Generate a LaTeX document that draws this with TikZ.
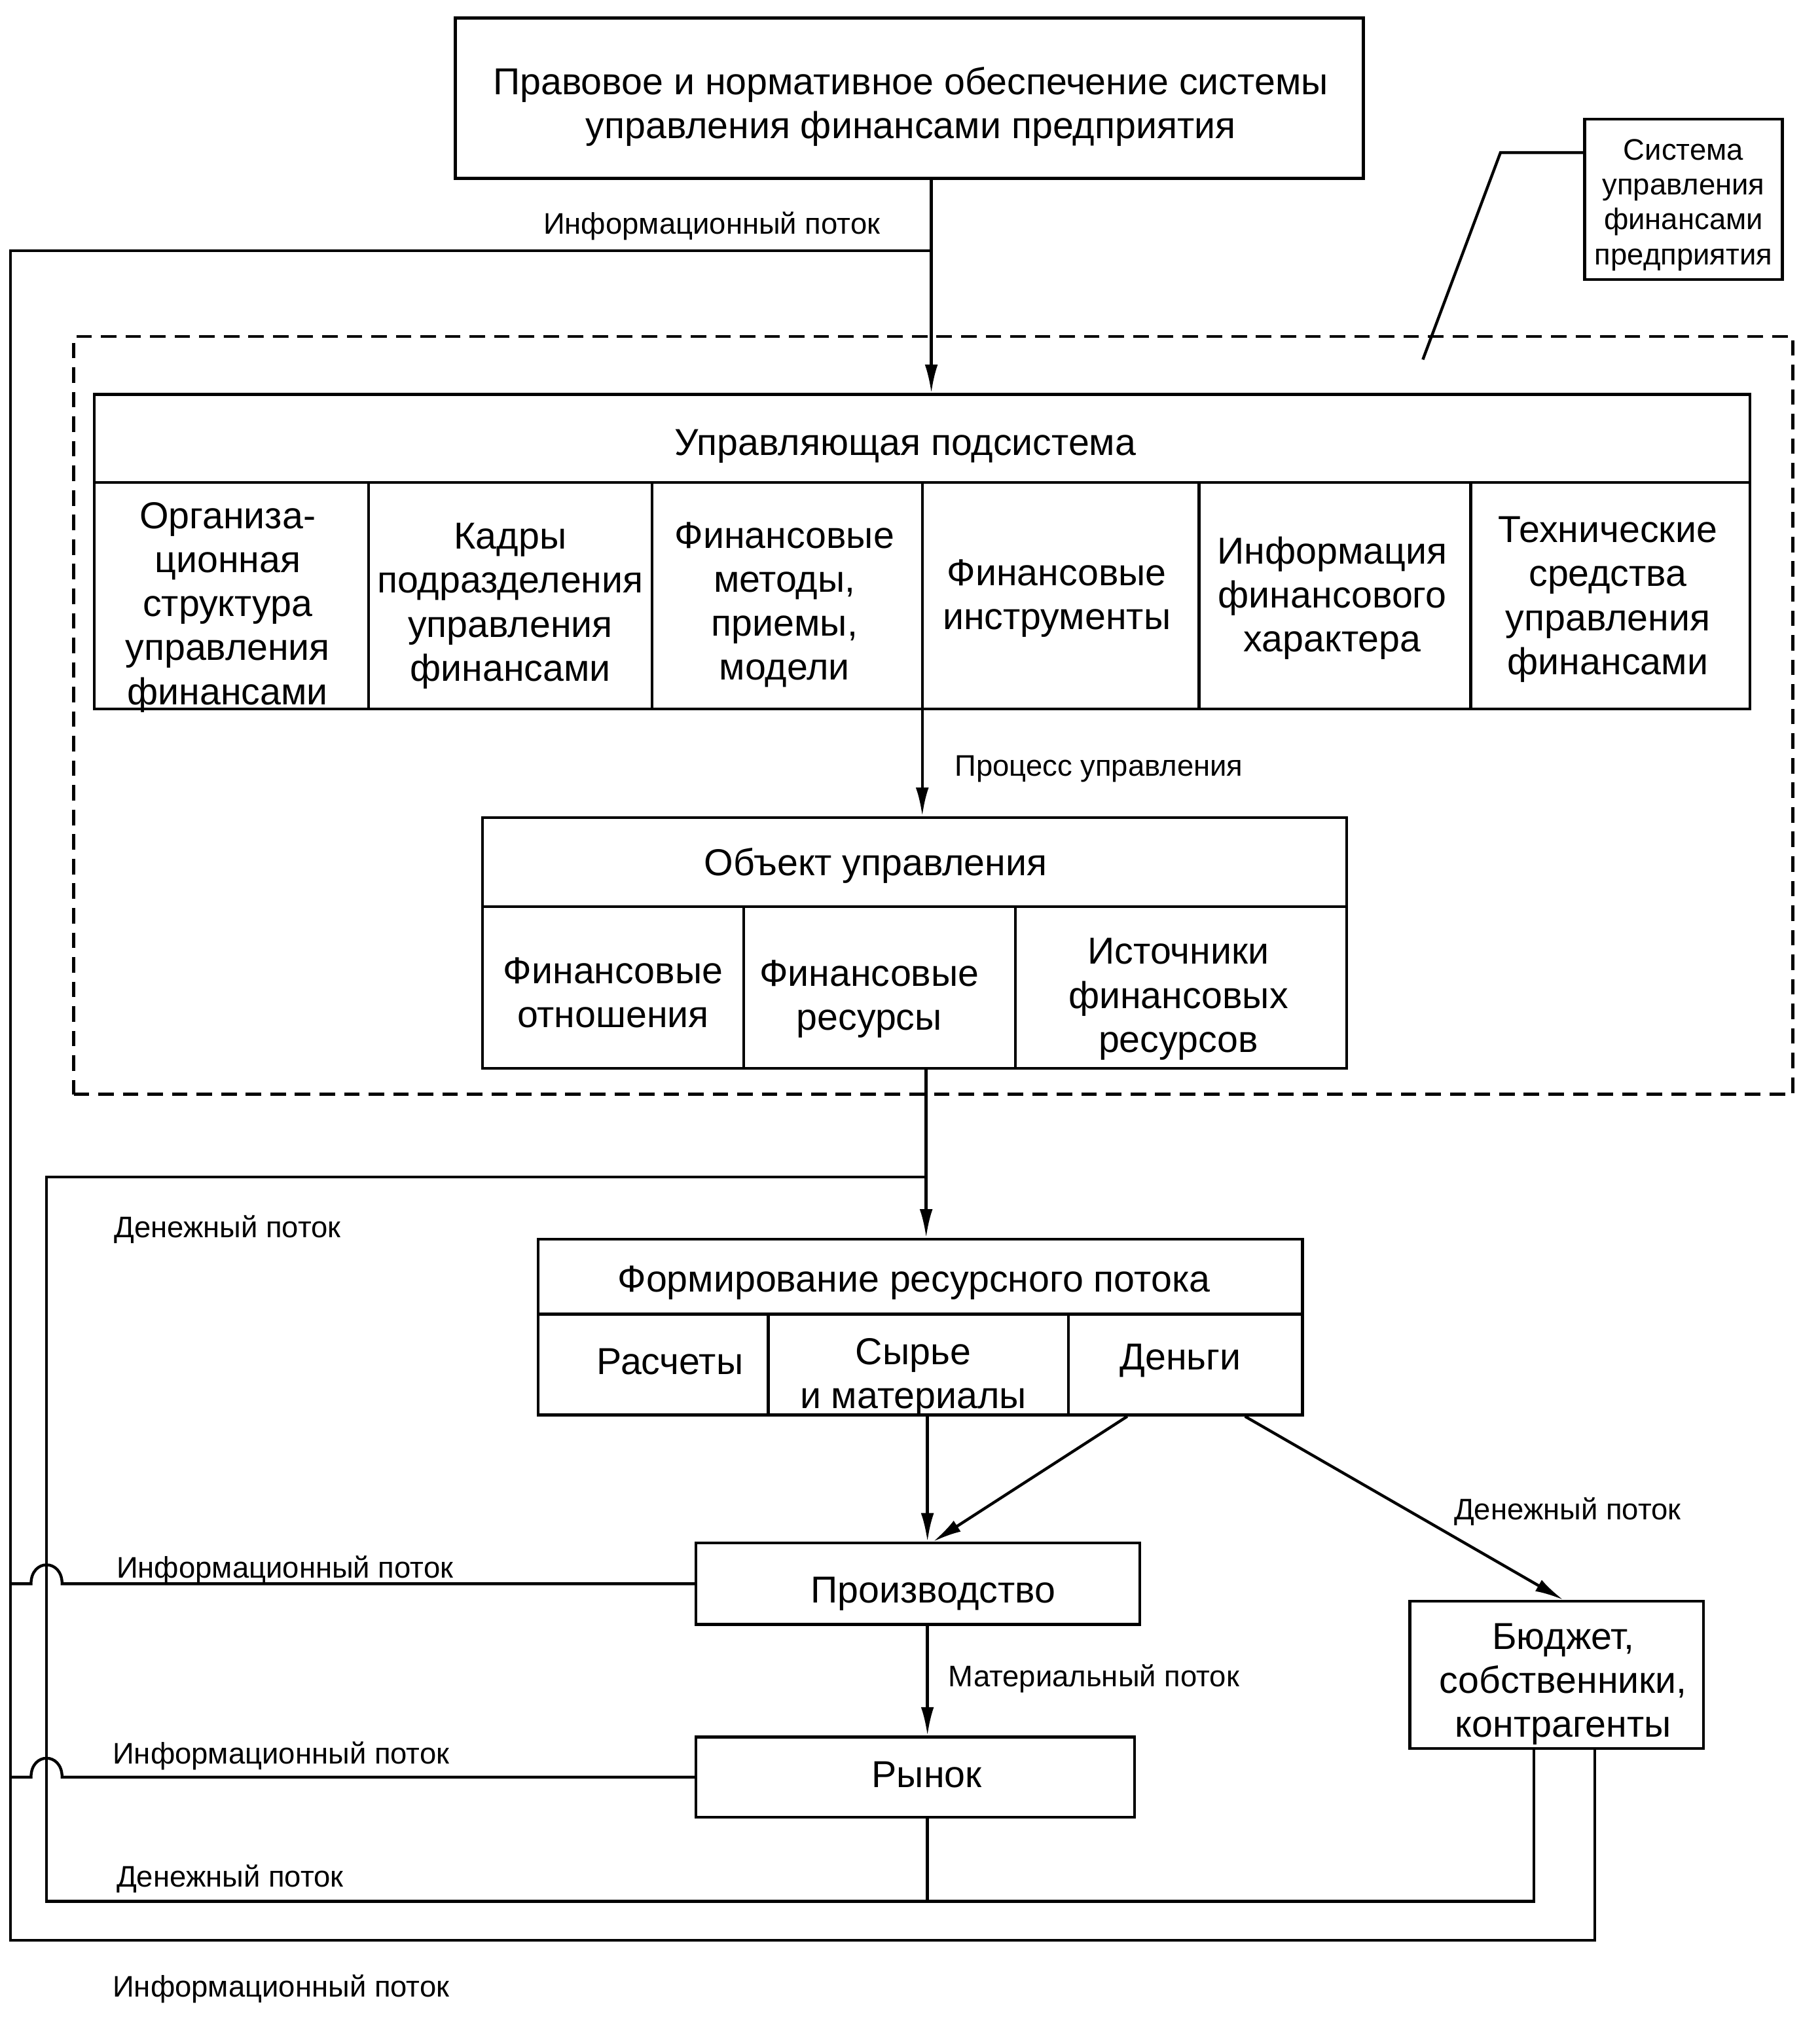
\documentclass[tikz,border=0pt]{standalone}
\usepackage{fontspec}
\setmainfont{Liberation Sans}
\usetikzlibrary{arrows.meta,calc}
\newcommand{\bigf}{\fontsize{29}{34}\selectfont}
\newcommand{\smf}{\fontsize{23}{27}\selectfont}
\begin{document}
\begin{tikzpicture}[x=1pt,y=-1pt,
  lw/.style={line width=2.2pt},
  box/.style={draw, lw, inner sep=0pt},
  txt/.style={inner sep=0pt, align=center, font=\bigf},
  ctxt/.style={inner sep=0pt, align=center, font=\smf},
  lab/.style={anchor=base west, inner sep=0pt, font=\smf},
  conn/.style={lw},
  arr/.style={lw, -{Latex[length=22pt,width=10pt]}},
  sysbox/.style={draw, lw, dash pattern=on 12pt off 7pt, inner sep=0pt}]
\fill[white] (0,0) rectangle (1407,1568);
\useasboundingbox (0,0) rectangle (1407,1568);

% frames
\node[sysbox, minimum width=1329, minimum height=586] (sys) at (721.5,553) {};
\node[box, minimum width=702, minimum height=124] (top) at (703,76) {};
\node[box, minimum width=153, minimum height=124] (call) at (1301.5,154) {};
\node[box, minimum width=1280, minimum height=68] (uhead) at (713,339) {};
\node[box, minimum width=212, minimum height=175] (u1) at (179,460.5) {};
\node[box, minimum width=219, minimum height=175] (u2) at (394.5,460.5) {};
\node[box, minimum width=209, minimum height=175] (u3) at (608.5,460.5) {};
\node[box, minimum width=214, minimum height=175] (u4) at (820,460.5) {};
\node[box, minimum width=210, minimum height=175] (u5) at (1032,460.5) {};
\node[box, minimum width=216, minimum height=175] (u6) at (1245,460.5) {};
\node[box, minimum width=668, minimum height=69] (ohead) at (707,666.5) {};
\node[box, minimum width=202, minimum height=125] (o1) at (474,763.5) {};
\node[box, minimum width=210, minimum height=125] (o2) at (680,763.5) {};
\node[box, minimum width=256, minimum height=125] (o3) at (913,763.5) {};
\node[box, minimum width=591, minimum height=58] (fhead) at (711.5,987) {};
\node[box, minimum width=178, minimum height=78] (f1) at (505,1055) {};
\node[box, minimum width=232, minimum height=78] (f2) at (710,1055) {};
\node[box, minimum width=181, minimum height=78] (f3) at (916.5,1055) {};
\node[box, minimum width=343, minimum height=63] (prod) at (709.5,1224.5) {};
\node[box, minimum width=339, minimum height=62] (ryn) at (707.5,1374) {};
\node[box, minimum width=227, minimum height=114] (bud) at (1203.5,1295) {};

% texts
\node[txt] (topT) at ($(top.center)+(1,6.5)$) {Правовое и нормативное обеспечение системы\\управления финансами предприятия};
\node[ctxt] (callT) at ($(call.center)+(0,4.5)$) {Система\\управления\\финансами\\предприятия};
\node[txt] (uheadT) at ($(uhead.center)+(-13,6)$) {Управляющая подсистема};
\node[txt] (u1T) at ($(u1.center)+(-3,9)$) {Организа-\\ционная\\структура\\управления\\финансами};
\node[txt] (u2T) at ($(u2.center)+(0,8)$) {Кадры\\подразделения\\управления\\финансами};
\node[txt] (u3T) at ($(u3.center)+(-2,7)$) {Финансовые\\методы,\\приемы,\\модели};
\node[txt] (u4T) at ($(u4.center)+(-3,2)$) {Финансовые\\инструменты};
\node[txt] (u5T) at ($(u5.center)+(-2,2)$) {Информация\\финансового\\характера};
\node[txt] (u6T) at ($(u6.center)+(-2,3)$) {Технические\\средства\\управления\\финансами};
\node[txt] (oheadT) at ($(ohead.center)+(-30,3)$) {Объект управления};
\node[txt] (o1T) at ($(o1.center)+(0,4)$) {Финансовые\\отношения};
\node[txt] (o2T) at ($(o2.center)+(-8,9)$) {Финансовые\\ресурсы};
\node[txt] (o3T) at ($(o3.center)+(-2,9)$) {Источники\\финансовых\\ресурсов};
\node[txt] (fheadT) at ($(fhead.center)+(-5,5)$) {Формирование ресурсного потока};
\node[txt] (f1T) at ($(f1.center)+(13,-2)$) {Расчеты};
\node[txt] (f2T) at ($(f2.center)+(-4,10)$) {Сырье\\и материалы};
\node[txt] (f3T) at ($(f3.center)+(-4,-3)$) {Деньги};
\node[txt] (prodT) at ($(prod.center)+(12,8)$) {Производство};
\node[txt] (rynT) at ($(ryn.center)+(9,-2)$) {Рынок};
\node[txt] (budT) at ($(bud.center)+(5,7)$) {Бюджет,\\собственники,\\контрагенты};

% helper coordinates
\coordinate (ax1) at (720,0);
\coordinate (ax2) at (713,0);
\coordinate (ax3) at (716,0);
\coordinate (ax4) at (717,0);
\coordinate (oTR) at (720,194);
\coordinate (oTL) at (8,194);
\coordinate (oBL) at (8,1500);
\coordinate (oBR) at (1233,1500);
\coordinate (iTR) at (716,910);
\coordinate (iTL) at (36,910);
\coordinate (iBL) at (36,1470);
\coordinate (iBR) at (1186,1470);
\coordinate (lk) at (1160,118);
\coordinate (lend) at (1100,278);

% connectors
\draw[arr] (top.south -| ax1) -- (uhead.north -| ax1);
\draw[conn] (oTR) -- (oTL) -- (oBL) -- (oBR) -- (bud.south -| oBR);
\draw[conn] (call.west |- lk) -- (lk) -- (lend);
\draw[arr] (u4.south -| ax2) -- (ohead.north -| ax2);
\draw[arr] (o2.south -| ax3) -- (fhead.north -| ax3);
\draw[conn] (iTR) -- (iTL) -- (iBL) -- (iBR) -- (bud.south -| iBR);
\draw[arr] (f2.south -| ax4) -- (prod.north -| ax4);
\draw[arr] ([xshift=-45pt]f3.south) -- ([xshift=12pt]prod.north);
\draw[arr] ([xshift=46pt]f3.south) -- ([xshift=5pt]bud.north);
\draw[arr] (prod.south -| ax4) -- (ryn.north -| ax4);
\draw[conn] (ryn.south -| ax4) -- (iBL -| ax4);
\draw[conn] (prod.west) -- (48,1224.5) .. controls (48,1205) and (24,1205) .. (24,1224.5) -- (prod.west -| oTL);
\draw[conn] (ryn.west) -- (48,1374) .. controls (48,1354.5) and (24,1354.5) .. (24,1374) -- (ryn.west -| oTL);

% labels
\node[lab] (l0) at (420,181) {Информационный поток};
\node[lab] (lp) at (738,600) {Процесс управления};
\node[lab] (lm0) at (88,957) {Денежный поток};
\node[lab] (lmr) at (1124,1175) {Денежный поток};
\node[lab] (li1) at (90,1220) {Информационный поток};
\node[lab] (lmat) at (733,1304) {Материальный поток};
\node[lab] (li2) at (87,1364) {Информационный поток};
\node[lab] (lm1) at (90,1459) {Денежный поток};
\node[lab] (li3) at (87,1544) {Информационный поток};
\end{tikzpicture}
\end{document}
